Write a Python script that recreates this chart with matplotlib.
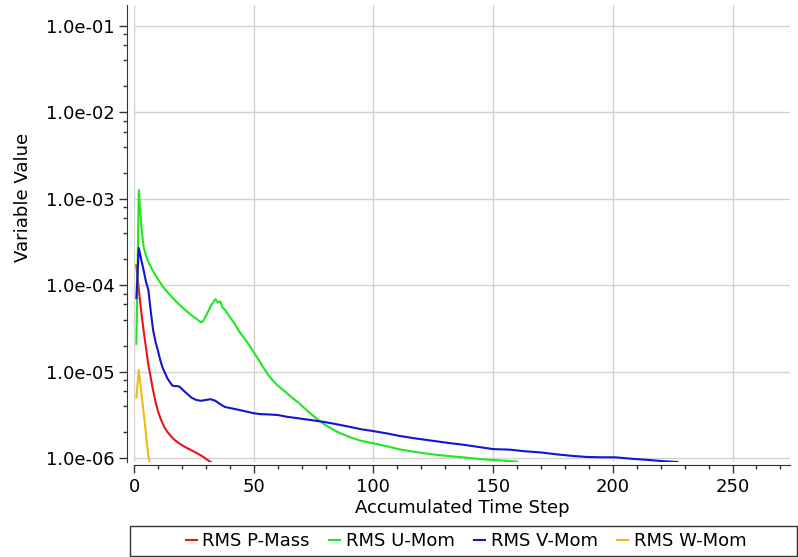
import numpy as np
import matplotlib
matplotlib.use("Agg")
import matplotlib.pyplot as plt
from matplotlib.patches import Rectangle
from matplotlib.ticker import FuncFormatter, LogLocator, MultipleLocator

# residual history
p_mass_steps = list(range(1, 34))
p_mass = [1.7e-4, 9.0e-5, 5.0e-5, 3.0e-5, 1.9e-5, 1.2e-5, 8.5e-6, 6.0e-6, 4.5e-6, 3.5e-6,
          2.9e-6, 2.5e-6, 2.2e-6, 2.0e-6, 1.85e-6, 1.72e-6, 1.62e-6, 1.54e-6, 1.47e-6, 1.41e-6,
          1.36e-6, 1.31e-6, 1.27e-6, 1.23e-6, 1.19e-6, 1.15e-6, 1.11e-6, 1.07e-6, 1.03e-6, 0.98e-6,
          0.94e-6, 0.90e-6, 0.87e-6]

u_mom_steps = [1, 2, 3, 4, 5, 6, 8, 10, 12, 14, 16, 18, 20, 22, 24, 26, 28, 29, 30, 31,
               32, 33, 34, 35, 36, 37, 38, 40, 42, 44, 46, 48, 50, 52, 54, 56, 58, 60, 63, 66,
               69, 72, 76, 80, 85, 90, 95, 100, 105, 111, 118, 125, 132, 139, 145, 150, 155, 160]
u_mom = [2.1e-5, 1.26e-3, 5.0e-4, 2.8e-4, 2.2e-4, 1.85e-4, 1.45e-4, 1.17e-4, 9.7e-5, 8.3e-5,
         7.2e-5, 6.3e-5, 5.6e-5, 5.0e-5, 4.5e-5, 4.1e-5, 3.7e-5, 3.9e-5, 4.4e-5, 5.0e-5,
         5.7e-5, 6.3e-5, 6.9e-5, 6.3e-5, 6.5e-5, 5.5e-5, 5.2e-5, 4.3e-5, 3.6e-5, 2.9e-5,
         2.45e-5, 2.05e-5, 1.68e-5, 1.38e-5, 1.12e-5, 9.2e-6, 7.9e-6, 6.9e-6, 5.9e-6, 5.0e-6,
         4.3e-6, 3.6e-6, 2.9e-6, 2.4e-6, 2.0e-6, 1.75e-6, 1.58e-6, 1.48e-6, 1.38e-6, 1.26e-6,
         1.17e-6, 1.1e-6, 1.05e-6, 1.01e-6, 0.97e-6, 0.95e-6, 0.93e-6, 0.91e-6]

v_mom_steps = [1, 2, 3, 4, 5, 6, 7, 8, 9, 10, 11, 12, 14, 16, 17, 18, 19, 20, 22, 24,
               26, 28, 30, 32, 34, 36, 38, 41, 44, 47, 50, 53, 56, 60, 64, 68, 72, 76, 80, 85,
               90, 95, 100, 106, 111, 118, 125, 131, 138, 145, 150, 157, 163, 170, 177, 183, 189, 195, 201, 208,
               215, 221, 227]
v_mom = [7.1e-5, 2.7e-4, 2.0e-4, 1.5e-4, 1.1e-4, 8.8e-5, 5.0e-5, 3.0e-5, 2.2e-5, 1.75e-5,
         1.35e-5, 1.1e-5, 8.3e-6, 6.9e-6, 6.8e-6, 6.8e-6, 6.7e-6, 6.3e-6, 5.6e-6, 5.0e-6,
         4.7e-6, 4.6e-6, 4.7e-6, 4.8e-6, 4.6e-6, 4.2e-6, 3.9e-6, 3.75e-6, 3.6e-6, 3.45e-6,
         3.3e-6, 3.22e-6, 3.2e-6, 3.15e-6, 3.0e-6, 2.9e-6, 2.8e-6, 2.7e-6, 2.6e-6, 2.45e-6,
         2.3e-6, 2.15e-6, 2.05e-6, 1.92e-6, 1.8e-6, 1.68e-6, 1.58e-6, 1.5e-6, 1.42e-6, 1.33e-6,
         1.27e-6, 1.25e-6, 1.2e-6, 1.16e-6, 1.1e-6, 1.06e-6, 1.03e-6, 1.02e-6, 1.02e-6, 0.98e-6,
         0.95e-6, 0.92e-6, 0.9e-6]

w_mom_steps = [1, 2, 3, 4, 5, 6, 7]
w_mom = [5.0e-6, 1.05e-5, 6.0e-6, 3.4e-6, 1.9e-6, 1.05e-6, 0.8e-6]

labels = ['RMS P-Mass', 'RMS U-Mom', 'RMS V-Mom', 'RMS W-Mom']
colors = ['#e8141c', '#1ee81e', '#1414d2', '#f5b914']

plt.rcParams['font.family'] = 'DejaVu Sans'
plt.rcParams['font.size'] = 13

fig = plt.figure(figsize=(7.98, 5.57), dpi=100)
ax = fig.add_axes([134/798, 1 - 462/557, (790-134)/798, (462-5)/557])

series = [(p_mass_steps, p_mass), (u_mom_steps, u_mom), (v_mom_steps, v_mom), (w_mom_steps, w_mom)]
for (xs, ys), lab, col in zip(series, labels, colors):
    ax.plot(xs, ys, color=col, lw=1.5, label=lab)

ax.set_yscale('log')
ax.set_ylim(0.9e-6, 0.175)
ax.set_xlim(0, 274)

ax.yaxis.set_major_locator(LogLocator(base=10, numticks=10))
ax.yaxis.set_minor_locator(LogLocator(base=10, subs=(2, 4, 6, 8), numticks=10))
ax.yaxis.set_major_formatter(FuncFormatter(lambda v, p: '%.1e' % v))
ax.yaxis.set_minor_formatter(FuncFormatter(lambda v, p: ''))
ax.xaxis.set_major_locator(MultipleLocator(50))
ax.xaxis.set_minor_locator(MultipleLocator(10))

ax.grid(True, which='major', color='#d2d2d2', lw=1)
ax.set_axisbelow(True)

for s in ['top', 'right']:
    ax.spines[s].set_visible(False)
ax.spines['left'].set_position(('outward', 5))
ax.spines['bottom'].set_position(('outward', 2.5))
ax.spines['left'].set_color('#333333')
ax.spines['bottom'].set_color('#333333')
ax.tick_params(which='major', length=6, width=1, color='#333333', pad=3)
ax.tick_params(which='minor', length=3, width=1, color='#333333')

ax.set_xlabel('Accumulated Time Step', labelpad=2)
ax.set_ylabel('Variable Value')
ax.yaxis.set_label_coords(-0.156, 0.578)

# legend box across the bottom
fig.patches.append(Rectangle((130/798, 1 - 556/557), (797-130)/798, 30/557,
                             transform=fig.transFigure, fill=False,
                             edgecolor='#333333', lw=1))
fig.legend(loc='center', ncol=4, bbox_to_anchor=(466/798, 1 - 541/557),
           handlelength=0.6, handletextpad=0.3, columnspacing=1.1,
           frameon=False, borderpad=0.3)

fig.savefig('out.png', dpi=100)
